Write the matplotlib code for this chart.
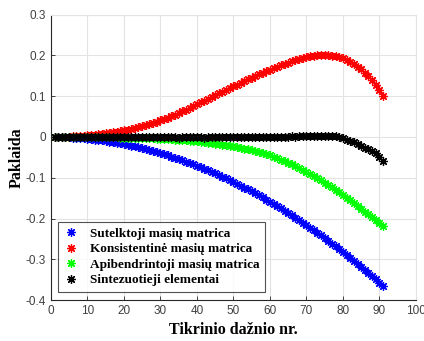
import matplotlib
matplotlib.use("Agg")
import matplotlib.pyplot as plt
import numpy as np

plt.rcParams['axes.unicode_minus'] = False

# mode numbers
nr = np.arange(1, 92)

# error of each mass-matrix formulation, one value per mode
sutelktoji = -np.array([
    0.0000, 0.0002, 0.0004, 0.0007, 0.0011, 0.0016, 0.0022, 0.0028, 0.0036, 0.0044,
    0.0053, 0.0064, 0.0075, 0.0086, 0.0099, 0.0113, 0.0127, 0.0143, 0.0159, 0.0176,
    0.0194, 0.0213, 0.0233, 0.0254, 0.0276, 0.0298, 0.0321, 0.0346, 0.0371, 0.0397,
    0.0424, 0.0452, 0.0480, 0.0510, 0.0540, 0.0572, 0.0604, 0.0637, 0.0671, 0.0706,
    0.0741, 0.0778, 0.0815, 0.0854, 0.0893, 0.0933, 0.0974, 0.1016, 0.1059, 0.1103,
    0.1147, 0.1192, 0.1239, 0.1286, 0.1334, 0.1383, 0.1433, 0.1484, 0.1535, 0.1588,
    0.1641, 0.1695, 0.1750, 0.1806, 0.1863, 0.1921, 0.1980, 0.2039, 0.2100, 0.2161,
    0.2223, 0.2286, 0.2350, 0.2415, 0.2481, 0.2547, 0.2615, 0.2683, 0.2752, 0.2822,
    0.2893, 0.2965, 0.3038, 0.3112, 0.3186, 0.3262, 0.3338, 0.3415, 0.3493, 0.3572,
    0.3652])

konsistentine = np.array([
    0.0000, 0.0002, 0.0004, 0.0007, 0.0011, 0.0016, 0.0021, 0.0027, 0.0034, 0.0042,
    0.0051, 0.0060, 0.0070, 0.0081, 0.0093, 0.0105, 0.0119, 0.0133, 0.0147, 0.0163,
    0.0181, 0.0201, 0.0222, 0.0244, 0.0268, 0.0293, 0.0320, 0.0348, 0.0378, 0.0409,
    0.0442, 0.0476, 0.0512, 0.0549, 0.0588, 0.0628, 0.0669, 0.0712, 0.0757, 0.0803,
    0.0848, 0.0893, 0.0938, 0.0982, 0.1026, 0.1070, 0.1114, 0.1158, 0.1201, 0.1244,
    0.1287, 0.1329, 0.1371, 0.1412, 0.1453, 0.1493, 0.1533, 0.1572, 0.1611, 0.1649,
    0.1686, 0.1722, 0.1757, 0.1791, 0.1823, 0.1854, 0.1883, 0.1910, 0.1935, 0.1958,
    0.1978, 0.1993, 0.2003, 0.2008, 0.2008, 0.2003, 0.1993, 0.1977, 0.1955, 0.1926,
    0.1888, 0.1842, 0.1788, 0.1726, 0.1656, 0.1578, 0.1491, 0.1395, 0.1280, 0.1150,
    0.1010])

apibendrintoji = np.array([
    0.0000, -0.0001, -0.0001, -0.0002, -0.0002, -0.0003, -0.0003, -0.0004, -0.0004, -0.0005,
    -0.0006, -0.0006, -0.0007, -0.0008, -0.0009, -0.0010, -0.0011, -0.0012, -0.0013, -0.0015,
    -0.0017, -0.0019, -0.0021, -0.0024, -0.0027, -0.0030, -0.0033, -0.0037, -0.0041, -0.0045,
    -0.0050, -0.0055, -0.0060, -0.0066, -0.0072, -0.0078, -0.0085, -0.0092, -0.0100, -0.0108,
    -0.0117, -0.0127, -0.0137, -0.0148, -0.0160, -0.0173, -0.0187, -0.0201, -0.0216, -0.0232,
    -0.0249, -0.0267, -0.0286, -0.0306, -0.0328, -0.0351, -0.0375, -0.0400, -0.0426, -0.0454,
    -0.0487, -0.0521, -0.0556, -0.0593, -0.0632, -0.0672, -0.0714, -0.0758, -0.0804, -0.0852,
    -0.0902, -0.0954, -0.1007, -0.1062, -0.1119, -0.1177, -0.1237, -0.1298, -0.1361, -0.1425,
    -0.1490, -0.1556, -0.1623, -0.1691, -0.1760, -0.1830, -0.1901, -0.1973, -0.2046, -0.2120,
    -0.2195])

sintezuotieji = np.array([
    0.0000, 0.0005, -0.0003, 0.0004, 0.0000, -0.0005, 0.0003, 0.0006, -0.0002, 0.0001,
    -0.0006, 0.0002, 0.0007, -0.0003, -0.0008, 0.0001, 0.0004, -0.0004, -0.0009, 0.0000,
    0.0005, -0.0002, -0.0010, -0.0004, 0.0003, -0.0006, -0.0011, -0.0003, 0.0002, -0.0007,
    -0.0012, -0.0004, 0.0001, -0.0008, -0.0013, -0.0005, 0.0000, -0.0009, -0.0012, -0.0004,
    -0.0008, -0.0013, -0.0006, -0.0002, -0.0010, -0.0012, -0.0005, -0.0001, -0.0008, -0.0011,
    -0.0004, 0.0000, -0.0006, -0.0009, -0.0002, 0.0002, -0.0004, -0.0006, 0.0001, 0.0004,
    -0.0002, 0.0002, 0.0006, 0.0003, 0.0008, 0.0012, 0.0009, 0.0014, 0.0018, 0.0022,
    0.0026, 0.0030, 0.0033, 0.0035, 0.0036, 0.0034, 0.0026, 0.0012, -0.0008, -0.0033,
    -0.0062, -0.0095, -0.0132, -0.0172, -0.0215, -0.0260, -0.0305, -0.0350, -0.0405, -0.0485,
    -0.0600])

pavadinimai = ['Sutelktoji masių matrica', 'Konsistentinė masių matrica',
               'Apibendrintoji masių matrica', 'Sintezuotieji elementai']
spalvos = ['#0000ff', '#ff0000', '#00ff00', '#000000']
y_zymes = [-0.4, -0.3, -0.2, -0.1, 0, 0.1, 0.2, 0.3]

fig = plt.figure(figsize=(4.24, 3.41), dpi=100)
ax = fig.add_axes([0.120, 0.120, 0.861, 0.837])

zvaigzde = (8, 2, 0)
for y, pav, sp in zip([sutelktoji, konsistentine, apibendrintoji, sintezuotieji],
                      pavadinimai, spalvos):
    ax.plot(nr, y, linestyle='none', marker=zvaigzde, markersize=6.2,
            markeredgewidth=0.9, color=sp, label=pav)

ax.set_xlim(0, 100)
ax.set_ylim(-0.4, 0.3)
ax.set_xticks(np.arange(0, 101, 10))
ax.set_yticks(y_zymes)
ax.set_yticklabels(['%g' % v for v in y_zymes])

ax.grid(True, color='#e3e3e3', linewidth=0.8)
ax.set_axisbelow(True)
for s in ['top', 'right']:
    ax.spines[s].set_color('#e3e3e3')
for s in ['left', 'bottom']:
    ax.spines[s].set_color('#262626')
    ax.spines[s].set_linewidth(0.8)
ax.tick_params(direction='in', length=3, width=0.6, labelsize=8.5,
               colors='#262626', labelcolor='#404040', top=False, right=False)
for t in ax.get_xticklabels() + ax.get_yticklabels():
    t.set_family('Liberation Sans')

serif = {'family': 'Liberation Serif', 'weight': 'bold', 'size': 11.5}
ax.set_xlabel('Tikrinio dažnio nr.', fontdict=serif, labelpad=4)
ax.set_ylabel('Paklaida', fontdict=serif, labelpad=1)

leg = ax.legend(loc='lower left', bbox_to_anchor=(0.02, 0.03),
                prop={'family': 'Liberation Serif', 'weight': 'bold', 'size': 9.5},
                frameon=True, fancybox=False, handlelength=1.2, handletextpad=0.8,
                borderpad=0.4, labelspacing=0.25, borderaxespad=0)
leg.get_frame().set_edgecolor('#262626')
leg.get_frame().set_linewidth(0.8)

fig.savefig('out.png', dpi=100)
